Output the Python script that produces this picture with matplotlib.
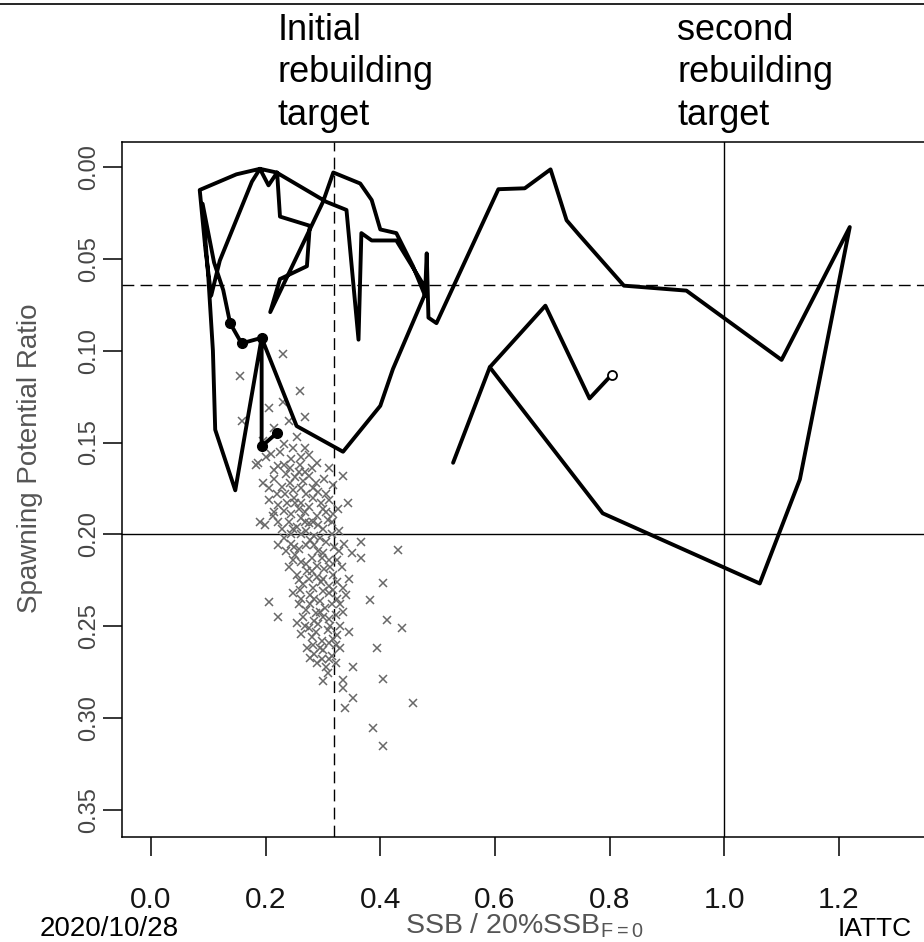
import matplotlib
matplotlib.use("Agg")
import matplotlib.pyplot as plt
from matplotlib.lines import Line2D

plt.rcParams['font.family'] = ['Liberation Sans', 'DejaVu Sans']

# ---------------- data ----------------
x_ticks = [0.0, 0.2, 0.4, 0.6, 0.8, 1.0, 1.2]
x_tick_labels = ["0.0", "0.2", "0.4", "0.6", "0.8", "1.0", "1.2"]
y_ticks = [0.00, 0.05, 0.10, 0.15, 0.20, 0.25, 0.30, 0.35]
y_tick_labels = ["0.00", "0.05", "0.10", "0.15", "0.20", "0.25", "0.30", "0.35"]

initial_target_x = 0.319
second_target_x = 1.0
spr_dashed = 0.064
spr_solid = 0.20

# historical trajectory (SSB ratio, SPR)
traj_x = [0.804, 0.765, 0.688, 0.591, 0.788, 1.062, 1.132, 1.219, 1.100, 0.934,
          0.825, 0.747, 0.725, 0.697, 0.652, 0.606, 0.498, 0.484, 0.481, 0.478,
          0.457, 0.428, 0.400, 0.385, 0.365, 0.318, 0.300, 0.208, 0.225, 0.272,
          0.277, 0.225, 0.220, 0.205, 0.190, 0.176, 0.120, 0.105, 0.095, 0.085,
          0.149, 0.190, 0.219, 0.306, 0.341, 0.362, 0.367, 0.385, 0.428, 0.481,
          0.422, 0.400, 0.335, 0.254, 0.193, 0.147, 0.112, 0.108, 0.100, 0.090,
          0.110, 0.126, 0.138, 0.158, 0.193, 0.193, 0.219]
traj_y = [0.113, 0.126, 0.0755, 0.109, 0.1885, 0.2267, 0.170, 0.0327, 0.105, 0.0673,
          0.0646, 0.037, 0.029, 0.0013, 0.0116, 0.0121, 0.085, 0.082, 0.047, 0.070,
          0.054, 0.036, 0.034, 0.018, 0.009, 0.003, 0.019, 0.079, 0.061, 0.054,
          0.032, 0.027, 0.003, 0.010, 0.001, 0.008, 0.051, 0.070, 0.045, 0.0125,
          0.004, 0.001, 0.003, 0.019, 0.0234, 0.094, 0.036, 0.040, 0.040, 0.067,
          0.110, 0.130, 0.155, 0.141, 0.093, 0.176, 0.143, 0.100, 0.060, 0.020,
          0.052, 0.067, 0.085, 0.096, 0.093, 0.152, 0.145]

branch_x = [0.527, 0.591]
branch_y = [0.161, 0.109]

recent_x = [0.138, 0.158, 0.193, 0.193, 0.219]
recent_y = [0.085, 0.096, 0.093, 0.152, 0.145]

# terminal-year uncertainty (gray crosses)
cross_x = [0.205, 0.230, 0.215, 0.240, 0.255, 0.195, 0.232, 0.268, 0.210,
           0.186, 0.200, 0.222, 0.245, 0.260, 0.276, 0.290, 0.310, 0.235, 0.252,
           0.195, 0.214, 0.228, 0.242, 0.262, 0.275, 0.288, 0.301, 0.318, 0.270, 0.250,
           0.205, 0.222, 0.238, 0.258, 0.283, 0.296, 0.310, 0.327, 0.245, 0.268, 0.290,
           0.198, 0.213, 0.228, 0.240, 0.255, 0.275, 0.300, 0.316, 0.328, 0.262, 0.285, 0.232,
           0.222, 0.245, 0.258, 0.270, 0.292, 0.305, 0.320, 0.336, 0.350, 0.280, 0.262, 0.310,
           0.240, 0.255, 0.272, 0.290, 0.302, 0.318, 0.333, 0.345, 0.265, 0.283, 0.310,
           0.248, 0.262, 0.278, 0.295, 0.310, 0.325, 0.340, 0.270, 0.288, 0.303, 0.322,
           0.255, 0.275, 0.292, 0.308, 0.330, 0.345, 0.280, 0.298, 0.318,
           0.272, 0.285, 0.300, 0.315, 0.330, 0.290, 0.305,
           0.243, 0.268, 0.282, 0.233, 0.262, 0.305, 0.248, 0.268, 0.292, 0.278,
           0.252, 0.298, 0.325, 0.275, 0.296, 0.258, 0.315, 0.335, 0.285, 0.300,
           0.262, 0.322, 0.300, 0.310,
           0.225, 0.248, 0.262, 0.215, 0.232, 0.258, 0.280, 0.205, 0.220, 0.248,
           0.265, 0.292, 0.305, 0.215, 0.232, 0.252, 0.275, 0.300, 0.318, 0.222,
           0.262, 0.282, 0.308, 0.245, 0.270, 0.295, 0.315, 0.235, 0.250, 0.285,
           0.300, 0.328, 0.248, 0.270, 0.290, 0.312, 0.258, 0.280, 0.300, 0.325,
           0.260, 0.285, 0.300, 0.318, 0.335, 0.265, 0.278, 0.295, 0.310, 0.330,
           0.268, 0.288, 0.312, 0.325, 0.282, 0.295, 0.310, 0.278, 0.298, 0.322,
           0.231, 0.155, 0.260, 0.158, 0.269, 0.184, 0.335, 0.344, 0.190, 0.367,
           0.431, 0.367, 0.405, 0.205, 0.382, 0.411, 0.222, 0.437, 0.394, 0.353,
           0.309, 0.405, 0.335, 0.335, 0.353, 0.4575, 0.338, 0.388, 0.405]
cross_y = [0.131, 0.128, 0.142, 0.138, 0.147, 0.149, 0.151, 0.153, 0.156,
           0.161, 0.158, 0.163, 0.159, 0.162, 0.157, 0.161, 0.164, 0.167, 0.169,
           0.172, 0.170, 0.174, 0.172, 0.175, 0.168, 0.172, 0.170, 0.173, 0.178, 0.180,
           0.181, 0.184, 0.183, 0.186, 0.180, 0.183, 0.181, 0.186, 0.189, 0.188, 0.190,
           0.195, 0.190, 0.197, 0.193, 0.196, 0.194, 0.197, 0.193, 0.198, 0.200, 0.201, 0.202,
           0.206, 0.205, 0.208, 0.206, 0.209, 0.204, 0.207, 0.205, 0.210, 0.213, 0.215, 0.214,
           0.218, 0.222, 0.220, 0.223, 0.219, 0.222, 0.218, 0.224, 0.227, 0.229, 0.228,
           0.232, 0.235, 0.233, 0.236, 0.232, 0.235, 0.233, 0.241, 0.243, 0.240, 0.244,
           0.248, 0.251, 0.249, 0.252, 0.250, 0.253, 0.256, 0.258, 0.257,
           0.262, 0.265, 0.263, 0.266, 0.262, 0.270, 0.272,
           0.164, 0.166, 0.175, 0.178, 0.183, 0.188, 0.197, 0.193, 0.195, 0.203,
           0.211, 0.213, 0.214, 0.224, 0.226, 0.238, 0.238, 0.242, 0.247, 0.245,
           0.254, 0.260, 0.280, 0.268,
           0.155, 0.153, 0.158, 0.165, 0.162, 0.166, 0.164, 0.175, 0.178, 0.176,
           0.171, 0.177, 0.178, 0.188, 0.187, 0.183, 0.185, 0.186, 0.189, 0.193,
           0.191, 0.193, 0.192, 0.200, 0.198, 0.202, 0.200, 0.209, 0.207, 0.206,
           0.210, 0.209, 0.214, 0.216, 0.217, 0.218, 0.225, 0.220, 0.224, 0.226,
           0.230, 0.235, 0.231, 0.230, 0.229, 0.245, 0.238, 0.242, 0.246, 0.238,
           0.250, 0.253, 0.250, 0.255, 0.260, 0.262, 0.259, 0.267, 0.268, 0.270,
           0.102, 0.114, 0.122, 0.138, 0.136, 0.162, 0.168, 0.183, 0.193, 0.204,
           0.2085, 0.213, 0.2266, 0.2366, 0.2357, 0.2466, 0.2448, 0.251, 0.262, 0.272,
           0.2756, 0.2789, 0.2793, 0.2838, 0.2893, 0.292, 0.2947, 0.3056, 0.315]

# ---------------- figure ----------------
W, H = 924, 942
fig = plt.figure(figsize=(W / 100, H / 100), dpi=100)
ax_left, ax_right, ax_top, ax_bottom = 122, 926, 142, 837
ax = fig.add_axes([ax_left / W, 1 - ax_bottom / H, (ax_right - ax_left) / W, (ax_bottom - ax_top) / H])
ax.set_xlim(-0.0506, 1.352)
ax.set_ylim(0.3647, -0.0136)

for s in ax.spines.values():
    s.set_linewidth(1.1)
    s.set_color('black')

# reference lines
ax.axvline(initial_target_x, color='black', lw=1.0, dashes=(8.5, 4.5))
ax.axhline(spr_dashed, color='black', lw=1.0, dashes=(8.5, 4.5))
ax.axvline(second_target_x, color='black', lw=1.0)
ax.axhline(spr_solid, color='black', lw=1.0)

# crosses
ax.plot(cross_x, cross_y, linestyle='none', marker='x', markersize=6,
        markeredgewidth=1.1, color='#686868', zorder=2)

# trajectory
ax.plot(traj_x, traj_y, color='black', lw=2.8, solid_joinstyle='round',
        solid_capstyle='round', zorder=3)
ax.plot(branch_x, branch_y, color='black', lw=2.8, solid_capstyle='round', zorder=3)
ax.plot(recent_x, recent_y, linestyle='none', marker='o', markersize=7,
        color='black', zorder=4)
ax.plot([traj_x[0]], [traj_y[0]], linestyle='none', marker='o', markersize=6.5,
        markerfacecolor='white', markeredgecolor='black', markeredgewidth=1.3, zorder=4)

# ticks
ax.set_xticks(x_ticks)
ax.set_xticklabels(x_tick_labels)
ax.set_yticks(y_ticks)
ax.set_yticklabels(y_tick_labels)
ax.tick_params(axis='x', length=14, width=1.1, pad=21, labelsize=21.5, labelcolor='#151515')
ax.tick_params(axis='y', length=14, width=1.1, pad=1.5, labelsize=17, labelcolor='#454545',
               labelrotation=90)
for lbl in ax.get_yticklabels():
    lbl.set_va('center')

# axis labels
fig.text(30 / W, 1 - 458 / H, "Spawning Potential Ratio", rotation=90, ha='center',
         va='center', fontsize=20, color='#555555')
fig.text(524 / W, 1 - 926 / H, r"SSB / 20%SSB$_{\mathregular{F=0}}$", ha='center',
         va='center', fontsize=20.5, color='#555555')

# annotations
for i, t in enumerate(["Initial", "rebuilding", "target"]):
    fig.text(278 / W, 1 - (40 + 42.5 * i) / H, t, ha='left', va='baseline', fontsize=26)
for i, t in enumerate(["second", "rebuilding", "target"]):
    fig.text(677 / W, 1 - (40 + 42.5 * i) / H, t, ha='left', va='baseline', fontsize=26)

fig.text(40 / W, 1 - 936 / H, "2020/10/28", ha='left', va='baseline', fontsize=20)
fig.text(912 / W, 1 - 936 / H, "IATTC", ha='right', va='baseline', fontsize=19)

fig.add_artist(Line2D([0, 1], [1 - 4 / H, 1 - 4 / H], transform=fig.transFigure,
                      color='black', lw=1.2))

fig.savefig("out.png", dpi=100)
